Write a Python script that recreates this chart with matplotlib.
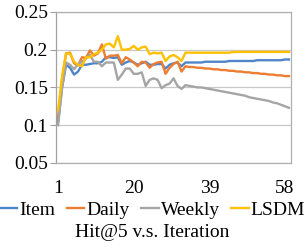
import matplotlib
matplotlib.use("Agg")
import matplotlib.pyplot as plt

iterations = list(range(1, 60))

item = [0.105, 0.150, 0.180, 0.176, 0.167, 0.171, 0.180, 0.180, 0.181, 0.182,
        0.182, 0.184, 0.190, 0.190, 0.189, 0.190, 0.180, 0.183, 0.185, 0.183,
        0.180, 0.182, 0.184, 0.180, 0.180, 0.181, 0.181, 0.175, 0.180, 0.182,
        0.183, 0.178, 0.183, 0.183, 0.183, 0.183, 0.183, 0.184, 0.184, 0.184,
        0.184, 0.184, 0.184, 0.185, 0.185, 0.185, 0.185, 0.185, 0.185, 0.185,
        0.186, 0.186, 0.186, 0.186, 0.186, 0.186, 0.186, 0.187, 0.187]

daily = [0.110, 0.160, 0.195, 0.196, 0.182, 0.179, 0.190, 0.189, 0.199, 0.192,
         0.195, 0.207, 0.188, 0.192, 0.192, 0.193, 0.182, 0.190, 0.187, 0.183,
         0.178, 0.184, 0.183, 0.176, 0.181, 0.183, 0.184, 0.168, 0.176, 0.181,
         0.184, 0.171, 0.178, 0.177, 0.177, 0.176, 0.176, 0.175, 0.175, 0.174,
         0.174, 0.173, 0.173, 0.172, 0.172, 0.171, 0.171, 0.170, 0.170, 0.169,
         0.169, 0.168, 0.168, 0.167, 0.167, 0.166, 0.166, 0.165, 0.165]

weekly = [0.100, 0.150, 0.183, 0.180, 0.174, 0.181, 0.184, 0.188, 0.193, 0.184,
          0.184, 0.178, 0.183, 0.183, 0.183, 0.160, 0.167, 0.175, 0.175, 0.168,
          0.168, 0.170, 0.152, 0.160, 0.162, 0.160, 0.149, 0.153, 0.155, 0.162,
          0.152, 0.148, 0.153, 0.152, 0.151, 0.150, 0.150, 0.149, 0.148, 0.147,
          0.146, 0.145, 0.144, 0.143, 0.142, 0.141, 0.140, 0.139, 0.137, 0.136,
          0.135, 0.134, 0.133, 0.132, 0.130, 0.129, 0.127, 0.125, 0.123]

lsdm = [0.120, 0.165, 0.195, 0.195, 0.184, 0.180, 0.178, 0.190, 0.190, 0.194,
        0.196, 0.200, 0.207, 0.208, 0.203, 0.218, 0.200, 0.200, 0.201, 0.205,
        0.200, 0.203, 0.204, 0.194, 0.196, 0.195, 0.196, 0.185, 0.191, 0.193,
        0.190, 0.185, 0.196, 0.196, 0.196, 0.196, 0.196, 0.196, 0.196, 0.196,
        0.196, 0.196, 0.196, 0.196, 0.197, 0.197, 0.197, 0.197, 0.197, 0.197,
        0.197, 0.197, 0.197, 0.197, 0.197, 0.197, 0.197, 0.197, 0.197]

series = [("Item", item, "#4f86c9"), ("Daily", daily, "#ed7d31"),
          ("Weekly", weekly, "#a5a5a5"), ("LSDM", lsdm, "#ffc000")]
y_ticks = [0.05, 0.1, 0.15, 0.2, 0.25]
y_labels = ["0.05", "0.1", "0.15", "0.2", "0.25"]
x_ticks = [1, 20, 39, 58]

plt.rcParams["font.family"] = "Liberation Serif"
plt.rcParams["font.size"] = 14

fig = plt.figure(figsize=(3.05, 2.48), dpi=100)
ax = fig.add_axes([0.184, 0.343, 0.770, 0.609])

for name, vals, col in series:
    ax.plot(iterations, vals, color=col, lw=1.7, label=name, zorder=3)

ax.set_xlim(0.5, 59.5)
ax.set_ylim(0.05, 0.25)
ax.set_yticks(y_ticks)
ax.set_yticklabels(y_labels)
ax.set_xticks(x_ticks)
ax.grid(axis="y", color="#c8c8c8", lw=0.9, zorder=0)
for s in ax.spines.values():
    s.set_color("#b0b0b0")
    s.set_linewidth(0.9)
ax.spines["left"].set_color("#a0a0a0")
ax.tick_params(axis="y", length=4, color="#a0a0a0", pad=2)
ax.tick_params(axis="x", length=0, pad=12)

fig.legend(loc="center", bbox_to_anchor=(0.5, 0.152), ncol=4, frameon=False,
           handlelength=0.9, handletextpad=0.1, columnspacing=0.6,
           borderaxespad=0, borderpad=0)
fig.text(0.5, 0.062, "Hit@5 v.s. Iteration", ha="center", va="center")

fig.savefig("out.png", dpi=100)
